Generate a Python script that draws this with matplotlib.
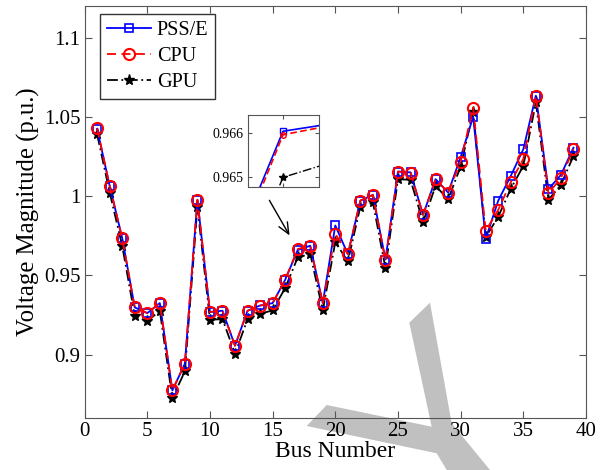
import matplotlib
matplotlib.use("Agg")
import matplotlib.pyplot as plt
from matplotlib.patches import Polygon

bus = list(range(1, 40))

pss_e = [1.0425, 1.0065, 0.9735, 0.9298, 0.9262, 0.9325, 0.8774, 0.8943, 0.9977, 0.9269,
         0.9277, 0.9056, 0.9277, 0.9310, 0.9325, 0.9472, 0.9660, 0.9687, 0.9325, 0.9815,
         0.9634, 0.9972, 1.0008, 0.9600, 1.0155, 1.0150, 0.9882, 1.0107, 1.0023, 1.0246,
         1.0502, 0.9731, 0.9972, 1.0128, 1.0296, 1.0634, 1.0044, 1.0134, 1.0306]
cpu = [1.0428, 1.0065, 0.9735, 0.9298, 0.9262, 0.9325, 0.8774, 0.8943, 0.9977, 0.9269,
       0.9277, 0.9056, 0.9277, 0.9309, 0.9325, 0.9472, 0.9666, 0.9687, 0.9325, 0.9762,
       0.9634, 0.9972, 1.0008, 0.9594, 1.0155, 1.0149, 0.9882, 1.0107, 1.0023, 1.0218,
       1.0559, 0.9781, 0.9914, 1.0088, 1.0235, 1.0634, 1.0019, 1.0113, 1.0298]
gpu = [1.0390, 1.0023, 0.9687, 0.9245, 0.9210, 0.9277, 0.8726, 0.8894, 0.9934, 0.9220,
       0.9224, 0.9006, 0.9224, 0.9258, 0.9279, 0.9420, 0.9613, 0.9636, 0.9279, 0.9710,
       0.9588, 0.9934, 0.9960, 0.9546, 1.0107, 1.0103, 0.9836, 1.0065, 0.9980, 1.0187,
       1.0533, 0.9741, 0.9871, 1.0046, 1.0191, 1.0592, 0.9977, 1.0071, 1.0254]

# values shown in the zoomed inset around bus 17
zoom_bus = [16, 17, 18]
zoom_pss = [0.9480, 0.96604, 0.9672]
zoom_cpu = [0.9475, 0.96596, 0.9674]
zoom_gpu = [0.9470, 0.96499, 0.9673]

xticks = [0, 5, 10, 15, 20, 25, 30, 35, 40]
yticks = [0.9, 0.95, 1.0, 1.05, 1.1]
ytick_labels = ["0.9", "0.95", "1", "1.05", "1.1"]

plt.rcParams['font.family'] = ['Liberation Serif', 'DejaVu Serif']

W, H = 611, 470
fig = plt.figure(figsize=(W / 100, H / 100), dpi=100)
ax = fig.add_axes([84.6 / W, 1 - 418 / H, (586 - 84.6) / W, (418 - 6) / H])
ax.patch.set_visible(False)

ax.plot(bus, pss_e, color='#0000ff', ls='-', lw=1.3, marker='s', ms=6,
        mfc='none', mec='#0000ff', mew=1.2, label='PSS/E', zorder=3)
ax.plot(bus, cpu, color='#ff0000', ls='--', lw=1.3, dashes=(5, 3), marker='o', ms=8,
        mfc='none', mec='#ff0000', mew=1.5, label='CPU', zorder=4)
ax.plot(bus, gpu, color='black', ls='-.', lw=1.3, dashes=(6, 2, 1, 2), marker='*', ms=8,
        mfc='black', mec='black', label='GPU', zorder=2)

ax.set_xlim(0, 40)
ax.set_ylim(0.86, 1.12)
ax.set_xticks(xticks)
ax.set_yticks(yticks)
ax.set_yticklabels(ytick_labels)
ax.tick_params(direction='in', top=True, right=True, labelsize=15, length=5,
               color='#555555', pad=3)
for s in ax.spines.values():
    s.set_color('#555555')
ax.set_xlabel('Bus Number', fontsize=17, labelpad=0)
ax.set_ylabel('Voltage Magnitude (p.u.)', fontsize=17.8, labelpad=3)

leg = ax.legend(loc='upper left', fontsize=14.6, handlelength=2.15, borderpad=0.35,
                labelspacing=0.33, handletextpad=0.3, fancybox=False,
                borderaxespad=0, bbox_to_anchor=(0.0307, 0.9806))
leg.get_frame().set_edgecolor('black')
leg.get_frame().set_linewidth(1.0)

ax.annotate('', xy=(16.46, 0.9737), xytext=(14.63, 0.9989),
            arrowprops=dict(arrowstyle='->,head_width=0.35,head_length=0.8',
                            color='black', lw=1.0))

ins = fig.add_axes([248 / W, 1 - 187 / H, 71 / W, 72 / H])
ins.plot(zoom_bus, zoom_pss, color='#0000ff', ls='-', lw=1.2, marker='s', ms=4,
         mfc='none', mec='#0000ff')
ins.plot(zoom_bus, zoom_cpu, color='#ff0000', ls='--', lw=1.2, dashes=(4, 2), marker='o', ms=4,
         mfc='none', mec='#ff0000')
ins.plot(zoom_bus, zoom_gpu, color='black', ls='-.', lw=1.0, marker='*', ms=6,
         mfc='black', mec='black')
ins.set_xlim(16.893, 17.11)
ins.set_ylim(0.96477, 0.96641)
ins.set_xticks([17])
ins.set_xticklabels([])
ins.set_yticks([0.965, 0.966])
ins.set_yticklabels(['0.965', '0.966'])
ins.tick_params(direction='in', top=True, right=True, labelsize=10, length=3,
                color='#555555', pad=3)
for s in ins.spines.values():
    s.set_color('#555555')

# gray stamp shape behind the lower right part of the plot
stamp_px = [(306.7, 426), (326.7, 405), (431.7, 426.7), (409.3, 322.7), (430, 302.7),
            (451.7, 423.3), (490, 470), (446.7, 470), (436.7, 453.3)]
stamp = Polygon([(x / W, 1 - y / H) for x, y in stamp_px], closed=True,
                transform=fig.transFigure, facecolor='#c0c0c0', edgecolor='none',
                zorder=-1)
fig.patches.append(stamp)

fig.savefig('out.png', dpi=100)
